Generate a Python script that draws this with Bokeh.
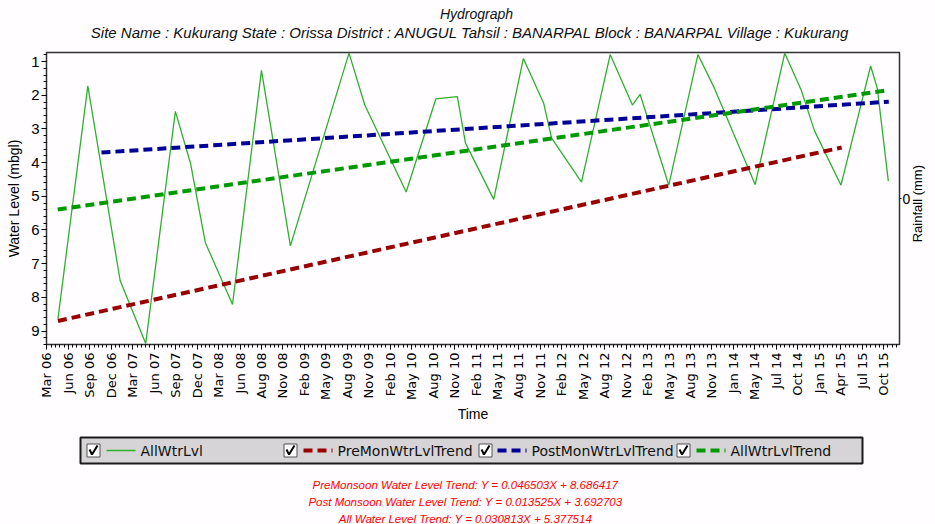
import math
import pandas as pd
from bokeh.plotting import figure
from bokeh.models import Range1d, LinearAxis, FixedTicker, SingleIntervalTicker
from bokeh.layouts import column
from bokeh.embed import file_html
from bokeh.resources import INLINE
from bokeh.core.properties import value

# ---------------- data ----------------
title_text = "Hydrograph"
subtitle_text = ("Site Name : Kukurang  State : Orissa District : ANUGUL  Tahsil : BANARPAL  "
                 "Block : BANARPAL Village : Kukurang")

tick_labels = ["Mar 06", "Jun 06", "Sep 06", "Dec 06", "Mar 07", "Jun 07", "Sep 07", "Dec 07",
               "Mar 08", "Jun 08", "Aug 08", "Nov 08", "Feb 09", "May 09", "Aug 09", "Nov 09",
               "Feb 10", "May 10", "Aug 10", "Nov 10", "Feb 11", "May 11", "Aug 11", "Nov 11",
               "Feb 12", "May 12", "Aug 12", "Nov 12", "Feb 13", "May 13", "Aug 13", "Nov 13",
               "Jan 14", "May 14", "Jul 14", "Oct 14", "Jan 15", "Apr 15", "Jul 15", "Oct 15"]
tick_start = "2006-03-15"
tick_step_days = 89.7

wl_dates = ["2006-04-30", "2006-09-02", "2007-01-15", "2007-05-02", "2007-09-03",
            "2007-11-05", "2008-01-06", "2008-04-29", "2008-08-28", "2008-12-27",
            "2009-08-29", "2009-11-03", "2010-04-25", "2010-08-27", "2010-11-25",
            "2010-12-29", "2011-04-26", "2011-08-28", "2011-11-21", "2011-12-24",
            "2012-04-27", "2012-08-25", "2012-11-26", "2012-12-28", "2013-04-27",
            "2013-08-27", "2013-11-01", "2014-04-23", "2014-08-25", "2014-11-02",
            "2014-12-27", "2015-04-17", "2015-08-19", "2015-09-16", "2015-11-01"]
wl_values = [8.64, 1.72, 7.50, 9.37, 2.48, 4.01, 6.37, 8.21, 1.26, 6.47,
             0.75, 2.29, 4.87, 2.11, 2.04, 3.42, 5.09, 0.91, 2.24, 3.27,
             4.58, 0.79, 2.29, 1.97, 4.67, 0.79, 1.75, 4.65, 0.75, 1.85,
             3.05, 4.67, 1.13, 1.80, 4.55]

pre_dates = ["2006-04-30", "2015-04-20"]
pre_values = [8.70, 3.55]
post_dates = ["2006-10-29", "2015-11-03"]
post_values = [3.70, 2.19]
all_dates = ["2006-04-29", "2015-11-01"]
all_values = [5.39, 1.85]

rain_ticks = [0]
rain_label = "Rainfall (mm)"

series_names = ["AllWtrLvl", "PreMonWtrLvlTrend", "PostMonWtrLvlTrend", "AllWtrLvlTrend"]
series_colors = ["#2fae2f", "#9a0000", "#000099", "#009900"]
eq_texts = ["PreMonsoon Water Level Trend: Y = 0.046503X + 8.686417",
            "Post Monsoon Water Level Trend: Y = 0.013525X + 3.692703",
            "All Water Level Trend: Y = 0.030813X + 5.377514"]

y_top, y_bottom = 0.73, 9.40


def ms(dates):
    return [int(pd.Timestamp(d).value // 10**6) for d in dates]


t0 = ms([tick_start])[0]
step = int(round(tick_step_days * 86400000))
ticks = [t0 + k * step for k in range(len(tick_labels))]
minor = [t0 + k * step + j * step // 5 for k in range(-1, len(tick_labels) + 1) for j in range(1, 5)]

W = 935
TH = 50          # title strip height
PH = 375         # plot height
QH = 99          # legend / equation strip height
FRAME_L, FRAME_R = 46, 899   # frame edges in page pixels (shared by all panels)
RAIN_LABEL_POS = -0.30       # where the rotated rainfall title starts (layout only)
BG = "#fffdff"
INK = "#000000"


def strip(height):
    f = figure(width=W, height=height, x_range=Range1d(FRAME_L, FRAME_R),
               y_range=Range1d(height, 0), output_backend="svg", toolbar_location=None,
               min_border_left=FRAME_L, min_border_right=W - FRAME_R,
               min_border_top=0, min_border_bottom=0,
               x_axis_location=None, y_axis_location=None,
               background_fill_color=BG, border_fill_color=BG)
    f.grid.visible = False
    f.outline_line_color = None
    return f


# ---------------- title strip ----------------
t = strip(TH)
t.text(x=[476], y=[13], text=[title_text], text_align="center", text_baseline="middle",
       text_font=value("Liberation Sans"), text_font_style="italic", text_font_size="14px",
       text_color="#111111")
t.text(x=[476], y=[32], text=[subtitle_text], text_align="center", text_baseline="middle",
       text_font=value("Liberation Sans"), text_font_style="italic", text_font_size="15px",
       text_color="#111111")

# ---------------- main plot ----------------
p = figure(width=W, height=PH,
           x_range=Range1d(t0 - int(0.02 * step), t0 + int(39.74 * step)),
           y_range=Range1d(y_bottom, y_top),
           output_backend="svg", toolbar_location=None,
           min_border_left=FRAME_L, min_border_right=W - FRAME_R,
           min_border_top=2, min_border_bottom=79,
           background_fill_color=BG, border_fill_color=BG)
p.title.visible = False
p.xgrid.visible = False
p.ygrid.visible = False
p.outline_line_color = "#303030"
p.outline_line_width = 1.5

xa = p.xaxis[0]
xa.ticker = FixedTicker(ticks=ticks, minor_ticks=minor)
xa.major_label_overrides = dict(zip(ticks, tick_labels))
xa.major_label_orientation = math.pi / 2
xa.major_label_text_font = "DejaVu Sans"
xa.major_label_text_font_size = "13px"
xa.major_label_text_color = INK
xa.major_label_standoff = 3
xa.axis_label = "Time"
xa.axis_label_text_font = "Liberation Sans"
xa.axis_label_text_font_style = "normal"
xa.axis_label_text_font_size = "14px"
xa.axis_label_text_color = INK
xa.axis_label_standoff = 3
xa.major_tick_out = 5
xa.major_tick_in = 0
xa.minor_tick_out = 3
xa.minor_tick_in = 0
xa.axis_line_color = "#303030"

ya = p.yaxis[0]
ya.ticker = SingleIntervalTicker(interval=1, num_minor_ticks=5)
ya.major_label_text_font = "Liberation Sans"
ya.major_label_text_font_size = "15px"
ya.major_label_text_color = INK
ya.major_label_standoff = 2
ya.axis_label = "Water Level (mbgl)"
ya.axis_label_text_font = "Liberation Sans"
ya.axis_label_text_font_style = "normal"
ya.axis_label_text_font_size = "14px"
ya.axis_label_text_color = INK
ya.axis_label_standoff = 6
ya.major_tick_out = 5
ya.major_tick_in = 0
ya.minor_tick_out = 3
ya.minor_tick_in = 0
ya.axis_line_color = "#303030"

# right (rainfall) axis: the "0" tick, then its title drawn as a rotated tick label
p.extra_y_ranges = {"rain": Range1d(-1, 1), "rain_title": Range1d(-1, 1)}
ra = LinearAxis(y_range_name="rain", ticker=FixedTicker(ticks=rain_ticks))
ra.axis_line_color = None
ra.major_tick_out = 2
ra.major_tick_in = 0
ra.minor_tick_line_color = None
ra.major_label_standoff = 1
ra.major_label_text_font = "Liberation Sans"
ra.major_label_text_font_size = "14px"
ra.major_label_text_color = INK
p.add_layout(ra, "right")

rl = LinearAxis(y_range_name="rain_title", ticker=FixedTicker(ticks=[RAIN_LABEL_POS]))
rl.major_label_overrides = {RAIN_LABEL_POS: rain_label}
rl.major_label_orientation = math.pi / 2
rl.axis_line_color = None
rl.major_tick_line_color = None
rl.minor_tick_line_color = None
rl.major_tick_out = 0
rl.major_label_standoff = 4
rl.major_label_text_font = "Liberation Sans"
rl.major_label_text_font_size = "13px"
rl.major_label_text_color = INK
p.add_layout(rl, "right")

p.line(ms(wl_dates), wl_values, color=series_colors[0], line_width=1.3)
p.line(ms(pre_dates), pre_values, color=series_colors[1], line_width=4, line_dash="9 5")
p.line(ms(post_dates), post_values, color=series_colors[2], line_width=4, line_dash="9 5")
p.line(ms(all_dates), all_values, color=series_colors[3], line_width=4, line_dash="9 5")

# ---------------- legend + equations strip ----------------
q = strip(QH)
q.quad(left=[80], right=[862], top=[12], bottom=[38], fill_color="#d6d4d6",
       line_color="#1a1a1a", line_width=2)
box_x = [93, 290, 485, 683]
q.rect(x=box_x, y=[25] * 4, width=13, height=13, fill_color="white",
       line_color="#505050", line_width=1)
q.multi_line(xs=[[c - 4, c - 1.5, c + 4] for c in box_x], ys=[[24, 29, 20]] * 4,
             line_color="black", line_width=2)
samp_x = [106, 303, 497, 696]
q.segment(x0=[samp_x[0]], y0=[25], x1=[samp_x[0] + 29], y1=[25],
          line_color=series_colors[0], line_width=1.5)
for i in range(1, 4):
    q.segment(x0=[samp_x[i]], y0=[25], x1=[samp_x[i] + 29], y1=[25],
              line_color=series_colors[i], line_width=4, line_dash="9 5")
q.text(x=[s + 34 for s in samp_x], y=[25] * 4, text=series_names,
       text_baseline="middle", text_align="left", text_font=value("DejaVu Sans"),
       text_font_size="14px", text_color="#111111")
q.text(x=[465] * 3, y=[59, 76, 93], text=eq_texts, text_baseline="alphabetic",
       text_align="center", text_font=value("Liberation Sans"), text_font_style="italic",
       text_font_size="11.5px", text_color="#ff0000")

layout = column(t, p, q)
open("out.html", "w").write(file_html(layout, INLINE))
